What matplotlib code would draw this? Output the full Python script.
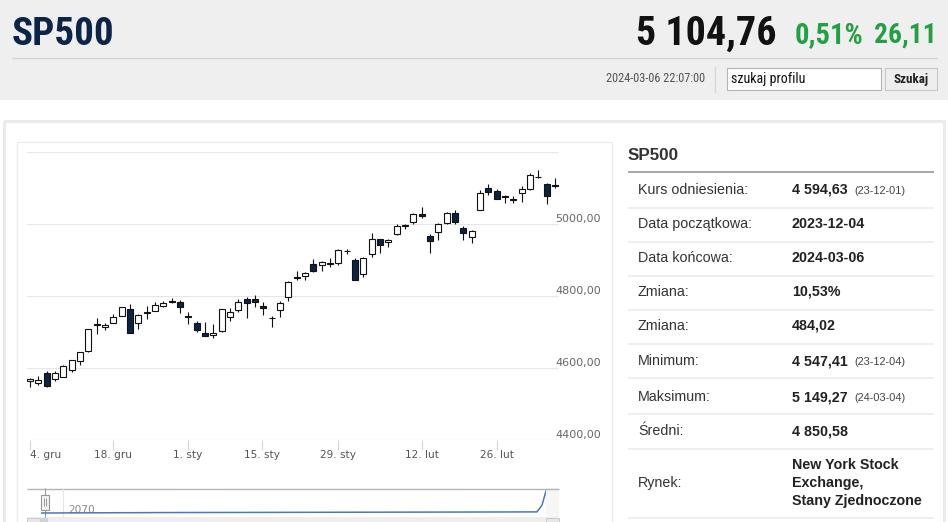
import matplotlib
matplotlib.use("Agg")
import matplotlib.pyplot as plt
import matplotlib.patches as patches
import matplotlib.transforms as mtransforms
from matplotlib import font_manager
import numpy as np
import pandas as pd

W, H = 948, 522

# ---- data ----
holidays = ["2023-12-25", "2024-01-01", "2024-01-15", "2024-02-19"]
dates = pd.bdate_range("2023-12-04", "2024-03-06")
dates = dates[~dates.isin(pd.to_datetime(holidays))]

opens = [4564.37, 4557.25, 4586.23, 4568.84, 4576.20, 4593.39, 4618.30, 4646.20, 4721.04, 4714.23,
         4725.58, 4743.72, 4764.73, 4724.29, 4753.92, 4758.86, 4773.45, 4786.44, 4782.88,
         4745.20, 4725.07, 4697.42, 4690.57, 4703.70, 4741.93, 4759.94, 4792.13, 4791.18,
         4772.35, 4739.13, 4760.10, 4796.28, 4853.42, 4856.80, 4888.56, 4886.66, 4888.91,
         4892.95, 4925.89, 4899.19,
         4861.11, 4916.06, 4957.19, 4950.16, 4973.05, 4995.16, 5004.17, 5026.83, 4967.94,
         4976.44, 5003.14, 5031.13, 4989.32, 4963.03, 5038.83, 5100.92, 5093.00, 5074.60,
         5067.20, 5085.36,
         5098.51, 5130.99, 5110.52, 5108.03]
highs = [4572.37, 4578.56, 4590.74, 4590.92, 4609.23, 4622.68, 4643.93, 4709.69, 4738.57, 4725.53,
         4749.52, 4768.69, 4778.01, 4748.71, 4772.94, 4784.72, 4785.39, 4793.30, 4788.43,
         4754.33, 4729.29, 4726.78, 4721.49, 4764.54, 4765.47, 4790.80, 4798.50, 4802.40,
         4782.34, 4744.23, 4785.79, 4842.07, 4868.41, 4866.48, 4903.68, 4898.15, 4906.69,
         4929.31, 4931.09, 4906.75,
         4906.97, 4975.29, 4957.19, 4957.77, 4999.89, 5000.40, 5030.06, 5048.39, 4971.30,
         5002.52, 5032.72, 5038.70, 4993.71, 4983.21, 5094.39, 5111.06, 5097.66, 5080.69,
         5077.37, 5104.99,
         5140.33, 5149.67, 5114.54, 5127.97]
lows = [4546.72, 4551.68, 4546.50, 4565.22, 4574.06, 4589.53, 4608.09, 4643.23, 4694.34, 4704.69,
        4725.58, 4743.72, 4697.82, 4708.35, 4736.77, 4758.45, 4768.90, 4780.98, 4751.99,
        4722.67, 4699.71, 4687.53, 4682.11, 4699.82, 4730.35, 4756.20, 4739.58, 4768.98,
        4747.12, 4714.82, 4740.57, 4785.87, 4844.05, 4844.37, 4865.94, 4869.34, 4881.47,
        4887.40, 4916.27, 4845.15,
        4853.52, 4907.99, 4918.09, 4934.88, 4969.05, 4987.09, 5000.34, 5016.83, 4920.31,
        4956.45, 4999.44, 4999.52, 4955.02, 4946.00, 5038.83, 5081.46, 5068.91, 5057.29,
        5058.35, 5061.89,
        5094.16, 5127.18, 5056.82, 5101.22]
closes = [4569.78, 4567.18, 4549.34, 4585.59, 4604.37, 4622.44, 4643.70, 4707.09, 4719.55, 4719.19,
          4740.56, 4768.37, 4698.35, 4746.75, 4754.63, 4774.75, 4781.58, 4783.35, 4769.83,
          4742.83, 4704.81, 4688.68, 4697.24, 4763.54, 4756.50, 4783.45, 4780.24, 4783.83,
          4765.98, 4739.21, 4780.94, 4839.81, 4850.43, 4864.60, 4868.55, 4894.16, 4890.97,
          4927.93, 4924.97, 4845.65,
          4906.19, 4958.61, 4942.81, 4954.23, 4995.06, 4997.91, 5026.61, 5021.84, 4953.17,
          5000.62, 5029.73, 5005.57, 4975.51, 4981.80, 5087.03, 5088.80, 5069.53, 5078.18,
          5069.76, 5096.27,
          5137.08, 5130.95, 5078.65, 5104.76]

y_ticks = [4400, 4600, 4800, 5000, 5200]
x_tick_dates = ["2023-12-04", "2023-12-18", "2024-01-01", "2024-01-15",
                "2024-01-29", "2024-02-12", "2024-02-26"]
x_tick_labels = ["4. gru", "18. gru", "1. sty", "15. sty", "29. sty", "12. lut", "26. lut"]

# navigator series (long history, shown squeezed)
nav_pos = [0.0, 0.25, 0.5, 0.75, 0.982, 0.992, 1.0]
nav_values = [0.0, 0.02, 0.03, 0.04, 0.05, 0.35, 1.0]

table_labels = ["Kurs odniesienia:", "Data początkowa:", "Data końcowa:", "Zmiana:", "Zmiana:",
                "Minimum:", "Maksimum:", "Średni:", "Rynek:"]
table_values = ["4 594,63", "2023-12-04", "2024-03-06", "10,53%", "484,02",
                "4 547,41", "5 149,27", "4 850,58",
                ["New York Stock", "Exchange,", "Stany Zjednoczone"]]
table_notes = ["(23-12-01)", "", "", "", "", "(23-12-04)", "(24-03-04)", "", ""]

# ---- fonts ----
available = {f.name for f in font_manager.fontManager.ttflist}
NARROW, nscale = "Liberation Sans", 0.82
for name in ["Liberation Sans Narrow", "Arial Narrow", "Roboto Condensed", "DejaVu Sans Condensed"]:
    if name in available:
        NARROW, nscale = name, 1.0
        break
ARIAL = "Liberation Sans"
PT = 0.72  # px -> pt

fig = plt.figure(figsize=(W / 100, H / 100), dpi=100)
bg = fig.add_axes([0, 0, 1, 1])
bg.set_xlim(0, W)
bg.set_ylim(H, 0)
bg.axis("off")


def px_axes(l, t, r, b):
    return fig.add_axes([l / W, 1 - b / H, (r - l) / W, (b - t) / H])


def rect(x0, y0, x1, y1, fc="none", ec="none", lw=0.72, z=1):
    bg.add_patch(patches.Rectangle((x0, y0), x1 - x0, y1 - y0, facecolor=fc,
                                   edgecolor=ec, linewidth=lw, zorder=z))


def line(xs, ys, color, lw=0.72, z=2):
    bg.plot(xs, ys, color=color, lw=lw, solid_capstyle="butt", zorder=z)


# ---- page header ----
rect(0, 0, W, 100, fc="#efefef", z=0)
line([12, 937], [57.5, 57.5], "#d4d4d4", lw=1.0)
bg.text(12, 45, "SP500", fontsize=39 * PT * nscale, fontweight="bold", family=NARROW,
        color="#0b2447", va="baseline", ha="left")
bg.text(777, 45, "5 104,76", fontsize=40 * PT * nscale, fontweight="bold", family=NARROW,
        color="#111111", va="baseline", ha="right")
bg.text(795, 43, "0,51%", fontsize=28.5 * PT * nscale, fontweight="bold", family=NARROW,
        color="#23a043", va="baseline", ha="left")
bg.text(937, 43, "26,11", fontsize=27.5 * PT * nscale, fontweight="bold", family=NARROW,
        color="#23a043", va="baseline", ha="right")

bg.text(705, 79, "2024-03-06 22:07:00", fontsize=12.2 * PT * nscale, family=NARROW,
        color="#555555", va="center", ha="right")
line([715.5, 715.5], [66, 93], "#d8d8d8", lw=1.0)
rect(727, 68, 881, 90, fc="white", ec="#b5b5b5", lw=0.8, z=2)
bg.text(731, 79, "szukaj profilu", fontsize=14 * PT * nscale, family=NARROW,
        color="#111111", va="center", ha="left", zorder=3)
rect(885, 68, 937, 90, fc="#eeeeee", ec="#c8c8c8", lw=0.8, z=2)
bg.text(911, 79, "Szukaj", fontsize=13 * PT * nscale, fontweight="bold", family=NARROW,
        color="#222222", va="center", ha="center", zorder=3)

# ---- content boxes ----
rect(4, 121, 944.5, 540, ec="#ebebeb", lw=2.2, z=0)
rect(17.5, 141.5, 612.5, 540, ec="#e8e8e8", lw=0.8, z=0)

# ---- candlestick chart ----
step = 8.333
ax = px_axes(27, 152, 559, 440)
ax.patch.set_alpha(0)
x = np.arange(len(closes))
o, h, l, c = (np.array(v) for v in (opens, highs, lows, closes))
up = c >= o
for v in y_ticks:
    ax.axhline(v, color="#ccd6eb" if v == y_ticks[0] else "#e6e6e6", lw=0.8, zorder=0)
ax.vlines(x, l, h, color="#111111", lw=0.8, zorder=2)
ax.bar(x, np.maximum(np.abs(c - o), 0.3), bottom=np.minimum(o, c), width=0.7,
       color=np.where(up, "white", "#0c2444"), edgecolor="#111111", linewidth=0.8, zorder=3)
ax.set_xlim(-3 / step, len(closes) - 1 + 4 / step)
ax.set_ylim(y_ticks[0], y_ticks[-1])
for s in ax.spines.values():
    s.set_visible(False)
ax.set_yticks([])

tick_pos = []
for d in pd.to_datetime(x_tick_dates):
    i = int(dates.searchsorted(d))
    tick_pos.append(i if dates[i] == d else i - 0.1)
ax.set_xticks(tick_pos)
ax.set_xticklabels(x_tick_labels)
ax.tick_params(axis="x", length=7, width=0.8, color="#ccd6eb", pad=0,
               labelsize=7.6, labelcolor="#555555")
ax.get_xticklabels()[0].set_ha("left")

trans = mtransforms.blended_transform_factory(ax.transAxes, ax.transData)
for v in y_ticks[:-1]:
    ax.text(0.9925, v, f"{v:.2f}".replace(".", ","), transform=trans, ha="left", va="bottom",
            fontsize=8, color="#666666", clip_on=False)

# ---- navigator ----
rect(546, 488, 559, 517, fc="#f6f6f6", z=0)
line([27, 559], [488.5, 488.5], "#b3b3b3", lw=1.0)
line([63.5, 63.5], [488, 517], "#e6e6e6", lw=0.8)
nav = px_axes(41, 488, 546, 516)
nav.patch.set_alpha(0)
nav.plot(nav_pos, nav_values, color="#4a78b8", lw=1.1)
nav.set_xlim(0, 1)
nav.set_ylim(-3 / 22, 1 + 3 / 22)
nav.axis("off")
bg.text(68, 510, "2070", fontsize=7.6, color="#888888", va="center", ha="left")
line([45.5, 45.5], [488, 517], "#999999", lw=0.8)
rect(41.5, 494.5, 49.5, 509.5, fc="#f2f2f2", ec="#999999", lw=0.8, z=3)
line([44.5, 44.5], [498, 506], "#999999", lw=0.7, z=4)
line([46.5, 46.5], [498, 506], "#999999", lw=0.7, z=4)
rect(27, 517, 559, 526, fc="#eeeeee", z=1)
rect(27.5, 517.5, 40.5, 526, fc="#e6e6e6", ec="#cccccc", lw=0.7, z=2)
rect(546.5, 517.5, 559, 526, fc="#e6e6e6", ec="#cccccc", lw=0.7, z=2)
rect(41, 517.5, 48, 526, fc="#c9d3e3", z=2)

# ---- info table ----
bg.text(628, 155, "SP500", fontsize=17 * PT, fontweight="bold", family=ARIAL,
        color="#333333", va="center", ha="left")
line([628, 934], [171.5, 171.5], "#a8a8a8", lw=1.4)
row_y = [190, 224, 258, 292, 326, 361, 397, 431, 483]
sep_y = [207, 241, 275, 309, 343, 377, 413, 448, 517]
for yy in sep_y:
    line([628, 934], [yy + 0.5, yy + 0.5], "#ececec", lw=1.2)
for yy, lab, val, note in zip(row_y, table_labels, table_values, table_notes):
    bg.text(638, yy, lab, fontsize=14.2 * PT, family=ARIAL, color="#333333",
            va="center", ha="left")
    if isinstance(val, list):
        for k, part in enumerate(val):
            bg.text(792, yy + (k - 1) * 18, part, fontsize=14.2 * PT, fontweight="bold",
                    family=ARIAL, color="#222222", va="center", ha="left")
    else:
        bg.text(792, yy, val, fontsize=14.2 * PT, fontweight="bold", family=ARIAL,
                color="#222222", va="center", ha="left")
    if note:
        bg.text(854, yy + 1, note, fontsize=11 * PT, family=ARIAL, color="#444444",
                va="center", ha="left")

fig.savefig("out.png", dpi=100)
